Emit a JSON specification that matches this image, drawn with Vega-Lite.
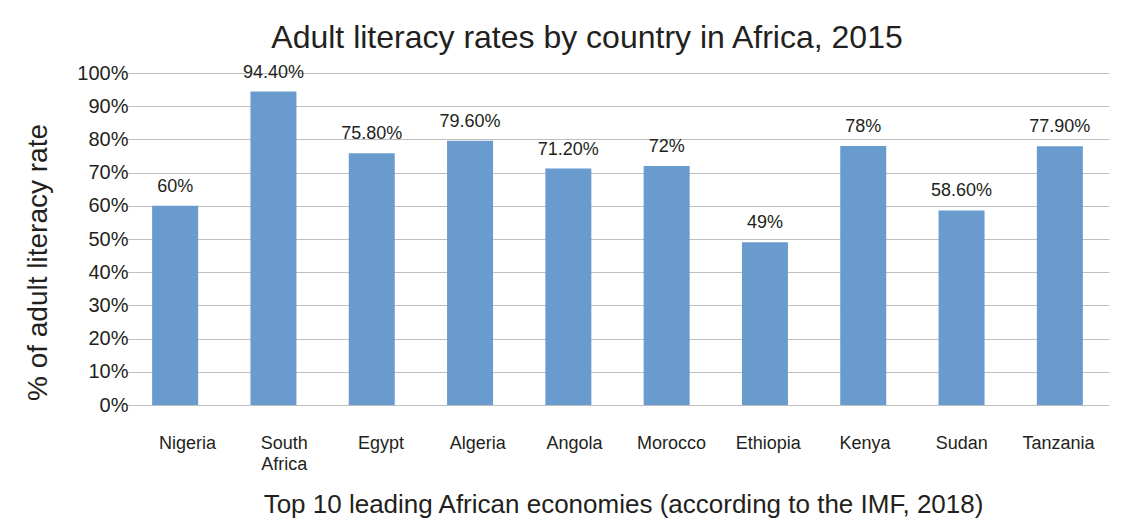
{
  "$schema": "https://vega.github.io/schema/vega-lite/v6.json",
  "width": 968,
  "height": 332,
  "autosize": "none",
  "padding": {"left": 139, "top": 73, "right": 16, "bottom": 120},
  "background": "white",
  "config": {
    "font": "Liberation Sans",
    "view": {"stroke": null}
  },
  "title": {
    "text": "Adult literacy rates by country in Africa, 2015",
    "fontSize": 32,
    "fontWeight": "normal",
    "color": "#231F20",
    "anchor": "middle",
    "frame": "group",
    "dx": -36,
    "baseline": "alphabetic",
    "offset": -17
  },
  "data": {
    "values": [
      {"country": "Nigeria", "rate": 60, "label": "60%"},
      {"country": "South Africa", "rate": 94.4, "label": "94.40%"},
      {"country": "Egypt", "rate": 75.8, "label": "75.80%"},
      {"country": "Algeria", "rate": 79.6, "label": "79.60%"},
      {"country": "Angola", "rate": 71.2, "label": "71.20%"},
      {"country": "Morocco", "rate": 72, "label": "72%"},
      {"country": "Ethiopia", "rate": 49, "label": "49%"},
      {"country": "Kenya", "rate": 78, "label": "78%"},
      {"country": "Sudan", "rate": 58.6, "label": "58.60%"},
      {"country": "Tanzania", "rate": 77.9, "label": "77.90%"}
    ]
  },
  "layer": [
    {
      "encoding": {
        "x": {
          "field": "country",
          "type": "nominal",
          "sort": null,
          "scale": {"range": [-13, 970], "paddingInner": 0, "paddingOuter": 0},
          "axis": null
        },
        "y": {
          "field": "rate",
          "type": "quantitative",
          "scale": {"domain": [0, 100], "nice": false},
          "axis": {
            "values": [0, 10, 20, 30, 40, 50, 60, 70, 80, 90, 100],
            "labelExpr": "datum.value + '%'",
            "labelFontSize": 20,
            "labelColor": "#231F20",
            "labelPadding": 11,
            "ticks": false,
            "domain": false,
            "grid": true,
            "gridColor": "#BFBFBF",
            "gridWidth": 1,
            "title": "% of adult literacy rate",
            "titleFontSize": 28,
            "titleFontWeight": "normal",
            "titleColor": "#231F20",
            "titleX": -101,
            "titleY": 189,
            "titleAngle": -90,
            "titleBaseline": "middle",
            "titleAlign": "center"
          }
        }
      },
      "layer": [
        {"mark": {"type": "bar", "size": 46, "color": "#6A9BCE"}},
        {
          "mark": {"type": "text", "fontSize": 18, "color": "#231F20", "baseline": "alphabetic", "dy": -14},
          "encoding": {"text": {"field": "label"}}
        }
      ]
    },
    {
      "mark": {"type": "tick", "opacity": 0},
      "encoding": {
        "x": {
          "field": "country",
          "type": "nominal",
          "sort": null,
          "axis": {
            "labelAngle": 0,
            "labelFontSize": 18,
            "labelColor": "#231F20",
            "labelPadding": 29,
            "labelBaseline": "top",
            "labelExpr": "split(datum.label, ' ')",
            "labelLineHeight": 21,
            "ticks": false,
            "domain": false,
            "title": "Top 10 leading African economies (according to the IMF, 2018)",
            "titleFontSize": 26,
            "titleFontWeight": "normal",
            "titleColor": "#231F20",
            "titleBaseline": "alphabetic",
            "titleY": 107
          }
        }
      }
    }
  ],
  "resolve": {"scale": {"x": "independent"}}
}
